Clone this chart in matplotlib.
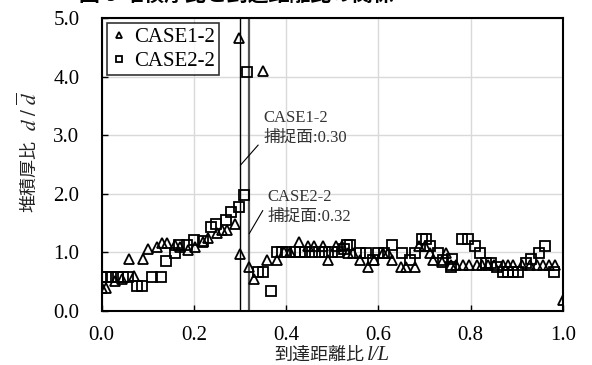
import matplotlib
matplotlib.use("Agg")
import matplotlib.pyplot as plt

plt.rcParams['font.family'] = ['Liberation Serif', 'Noto Sans CJK JP']
plt.rcParams['mathtext.fontset'] = 'stix'

# CASE1-2 (三角)
case1_x = [0.000, 0.010, 0.029, 0.043, 0.059, 0.071, 0.089, 0.100, 0.119, 0.130,
           0.142, 0.159, 0.170, 0.188, 0.202, 0.220, 0.231, 0.249, 0.260, 0.271,
           0.289, 0.297, 0.300, 0.320, 0.330, 0.350, 0.359, 0.379, 0.395, 0.408,
           0.428, 0.448, 0.460, 0.479, 0.491, 0.508, 0.520, 0.534, 0.545, 0.560,
           0.578, 0.590, 0.609, 0.620, 0.630, 0.649, 0.660, 0.679, 0.688, 0.700,
           0.711, 0.719, 0.737, 0.747, 0.758, 0.769, 0.784, 0.797, 0.813, 0.824,
           0.838, 0.850, 0.870, 0.881, 0.892, 0.912, 0.928, 0.943, 0.957, 0.970,
           0.982, 1.000]
case1_y = [0.38, 0.38, 0.50, 0.55, 0.88, 0.59, 0.88, 1.05, 1.09, 1.16,
           1.16, 1.12, 1.09, 1.04, 1.09, 1.18, 1.25, 1.32, 1.38, 1.38,
           1.49, 4.66, 0.97, 0.75, 0.54, 4.10, 0.87, 0.87, 1.00, 1.00,
           1.18, 1.11, 1.11, 1.11, 0.87, 1.11, 1.11, 0.99, 0.99, 0.87,
           0.75, 0.87, 0.99, 0.99, 0.87, 0.74, 0.74, 0.74, 1.11, 1.11,
           0.99, 0.87, 0.84, 0.99, 0.78, 0.78, 0.78, 0.78, 0.78, 0.78,
           0.78, 0.78, 0.78, 0.78, 0.78, 0.78, 0.78, 0.78, 0.78, 0.78,
           0.78, 0.18]

# CASE2-2 (四角)
case2_x = [0.000, 0.010, 0.020, 0.035, 0.047, 0.057, 0.076, 0.088, 0.108, 0.128,
           0.139, 0.159, 0.168, 0.184, 0.199, 0.219, 0.238, 0.248, 0.269, 0.280,
           0.298, 0.308, 0.316, 0.338, 0.349, 0.368, 0.379, 0.390, 0.400, 0.418,
           0.430, 0.440, 0.455, 0.470, 0.485, 0.500, 0.512, 0.525, 0.532, 0.538,
           0.560, 0.572, 0.589, 0.600, 0.612, 0.630, 0.650, 0.668, 0.679, 0.695,
           0.704, 0.712, 0.730, 0.740, 0.757, 0.760, 0.780, 0.794, 0.809, 0.820,
           0.834, 0.845, 0.856, 0.869, 0.881, 0.892, 0.903, 0.919, 0.930, 0.948,
           0.960, 0.980]
case2_y = [0.57, 0.57, 0.57, 0.57, 0.57, 0.57, 0.43, 0.43, 0.57, 0.57,
           0.85, 0.99, 1.12, 1.12, 1.21, 1.20, 1.43, 1.48, 1.55, 1.69,
           1.77, 1.98, 4.08, 0.67, 0.67, 0.34, 1.00, 1.00, 1.00, 1.00,
           1.00, 1.00, 1.00, 1.00, 1.00, 1.00, 1.00, 1.05, 1.12, 1.12,
           0.99, 0.99, 0.87, 0.99, 0.99, 1.12, 0.99, 0.87, 0.99, 1.22,
           1.22, 1.10, 0.99, 0.87, 0.75, 0.88, 1.22, 1.22, 1.11, 0.99,
           0.81, 0.81, 0.75, 0.67, 0.67, 0.67, 0.67, 0.81, 0.88, 0.99,
           1.11, 0.67]

# 捕捉面の位置
capture1 = 0.30
capture2 = 0.32

W, H = 592, 365
fig = plt.figure(figsize=(W / 100, H / 100), dpi=100)
ax = fig.add_axes([0.1718, 0.1488, 0.7792, 0.8012])

ax.grid(True, color='#d9d9d9', linewidth=1)
ax.set_axisbelow(True)

ax.axvline(capture1, color='black', linewidth=1.0, zorder=2)
ax.axvline(capture2, color='#555555', linewidth=1.6, zorder=2)

ax.plot(case1_x, case1_y, linestyle='none', marker='^', markersize=7,
        markerfacecolor='none', markeredgecolor='black', markeredgewidth=1.3,
        label='CASE1-2', zorder=3)
ax.plot(case2_x, case2_y, linestyle='none', marker='s', markersize=7,
        markerfacecolor='none', markeredgecolor='black', markeredgewidth=1.3,
        label='CASE2-2', zorder=3)

# 注記
ax.plot([0.301, 0.339], [2.49, 2.83], color='black', linewidth=0.8)
ax.plot([0.320, 0.349], [1.32, 1.71], color='black', linewidth=0.8)
ax.text(0.350, 3.12, 'CASE1-2\n捕捉面:0.30', fontsize=12, va='center',
        ha='left', color='#333333', linespacing=1.3)
ax.text(0.360, 1.77, 'CASE2-2\n捕捉面:0.32', fontsize=12, va='center',
        ha='left', color='#333333', linespacing=1.3)

ax.set_xlim(0, 1.0)
ax.set_ylim(0, 5.0)
ax.set_xticks([0.0, 0.2, 0.4, 0.6, 0.8, 1.0])
ax.set_yticks([0, 1, 2, 3, 4, 5])
ax.set_xticklabels(['0.0', '0.2', '0.4', '0.6', '0.8', '1.0'])
ax.set_yticklabels(['0.0', '1.0', '2.0', '3.0', '4.0', '5.0'])
ax.tick_params(axis='both', direction='in', length=4, width=1, labelsize=15)
ax.tick_params(axis='x', pad=11)
ax.tick_params(axis='y', pad=16)
for s in ax.spines.values():
    s.set_linewidth(1.5)
    s.set_color('black')

# 軸ラベル (和文と記号を分けて描く)
fig.text(364 / W, 1 - 355 / H, '到達距離比', fontsize=13, ha='right',
         va='center', family='Noto Sans CJK JP', color='#222222')
fig.text(367 / W, 1 - 355 / H, 'l/L', fontsize=15, ha='left',
         va='center', style='italic', color='#222222')
fig.text(29 / W, 1 - 212 / H, '堆積厚比', fontsize=13, rotation=90,
         ha='center', va='bottom', family='Noto Sans CJK JP', color='#222222')
fig.text(30 / W, 1 - 131 / H, r'$d\ /\ \overline{d}$', fontsize=15,
         rotation=90, ha='center', va='bottom', color='#222222')

leg = ax.legend(loc='upper left', fontsize=15, markerscale=0.7,
                frameon=True, fancybox=False, borderaxespad=0.25,
                handlelength=0.8, handletextpad=0.3, borderpad=0.2,
                labelspacing=0.2)
leg.get_frame().set_edgecolor('black')
leg.get_frame().set_linewidth(1.2)

fig.text(0.40, 1.01, '図-9 堆積厚比と到達距離比の関係', fontsize=15,
         fontweight='bold', ha='center', va='center')

fig.savefig('out.png', dpi=100)
